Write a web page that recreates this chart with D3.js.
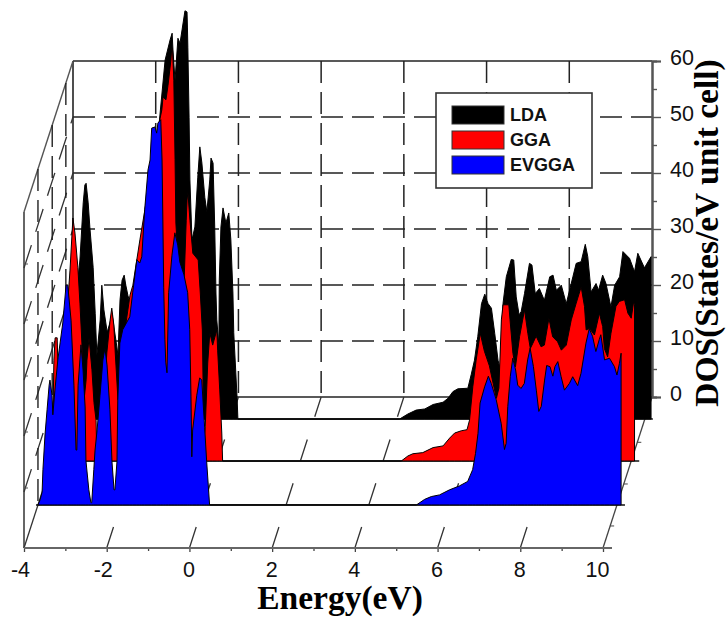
<!DOCTYPE html>
<html>
<head>
<meta charset="utf-8">
<script src="https://cdn.jsdelivr.net/npm/d3@7/dist/d3.min.js"></script>
<style>
  html, body { margin: 0; padding: 0; background: #fff; }
  svg { display: block; }
  .tickText { font-family: "Liberation Sans", Arial, sans-serif; font-size: 21.5px; fill: #111; }
  .title { font-family: "Liberation Serif", "Times New Roman", serif; font-weight: bold; font-size: 33.5px; fill: #000; }
</style>
</head>
<body>
<div id="chart"></div>
<script>
// energy (eV), DOS
const ldaPoints = [[-4,0],[-3.97,4.3],[-3.9,8.8],[-3.8,17.7],[-3.71,24.8],[-3.66,28.4],[-3.58,38.6],[-3.54,41.8],[-3.51,42.1],[-3.46,38.6],[-3.42,34.3],[-3.34,27.1],[-3.29,18.9],[-3.25,11.4],[-3.17,17.7],[-3.13,23.9],[-3.08,19.5],[-3,15.5],[-2.88,18.6],[-2.79,14.1],[-2.74,11.4],[-2.69,21.3],[-2.64,24.8],[-2.59,25.7],[-2.55,23.9],[-2.5,22.1],[-2.45,20.7],[-2.38,15.9],[-2.26,21.3],[-2.09,30.2],[-1.85,44.5],[-1.6,64.1],[-1.48,67.7],[-1.43,68.9],[-1.41,65.9],[-1.36,60.5],[-1.29,68],[-1.24,67.1],[-1.19,69.5],[-1.12,72.9],[-1.07,72.7],[-1.06,70],[-1.05,66.4],[-1.02,53.9],[-1,42.7],[-0.95,32],[-0.88,34.3],[-0.81,43.2],[-0.76,48.6],[-0.71,45.7],[-0.69,43.9],[-0.64,39.6],[-0.59,37],[-0.52,42.7],[-0.49,46.6],[-0.44,45.7],[-0.43,42.7],[-0.4,34.3],[-0.37,22.5],[-0.35,17.7],[-0.3,13.2],[-0.29,24.8],[-0.25,34.3],[-0.2,37.7],[-0.13,35],[-0.06,36.8],[-0.01,32],[0.04,22.5],[0.06,15.4],[0.14,3.9],[0.16,0],
  [4.07,0],[4.27,0.9],[4.47,1.6],[4.68,1.8],[4.88,2.6],[5.12,3],[5.24,3.7],[5.36,4.9],[5.48,5.4],[5.72,5.5],[5.8,7.9],[5.88,10.5],[5.96,14.7],[6.05,20.6],[6.13,22.3],[6.21,20.6],[6.29,19.8],[6.37,15.3],[6.45,10.5],[6.5,9],[6.57,20.6],[6.65,25.4],[6.77,28.5],[6.83,28.4],[6.89,21.8],[6.96,18.6],[7.01,19.2],[7.09,22.4],[7.21,27.8],[7.27,27.5],[7.35,22.4],[7.45,23.3],[7.57,21.2],[7.7,25.4],[7.78,25.7],[7.86,23],[7.98,23.9],[8.1,20.6],[8.26,25.4],[8.34,27.8],[8.46,28.1],[8.56,31.2],[8.62,29],[8.7,22.7],[8.82,24.2],[8.88,23],[8.98,25.7],[9.06,24.2],[9.18,20],[9.27,23.9],[9.39,25.4],[9.47,29.9],[9.63,28.7],[9.75,26.3],[9.83,29.6],[9.99,27],[10.15,29],[10.15,0]];

const ggaPoints = [[-4,0],[-3.98,8.6],[-3.96,18],[-3.93,22],[-3.88,22],[-3.86,16.3],[-3.81,10.9],[-3.76,12.7],[-3.67,23.4],[-3.57,34.1],[-3.5,43.4],[-3.45,40.7],[-3.38,34.6],[-3.33,28.2],[-3.28,20.7],[-3.23,10.9],[-3.18,14.5],[-3.16,18],[-3.11,22],[-3.04,16.3],[-2.99,10.4],[-2.94,7.3],[-2.92,0],[-2.85,1.1],[-2.75,10.9],[-2.68,19.3],[-2.6,25.2],[-2.56,27.3],[-2.51,24.3],[-2.48,19.8],[-2.41,10.9],[-2.31,14.5],[-2.24,23.4],[-2.12,29.6],[-2.05,31.4],[-1.88,39.5],[-1.64,50.2],[-1.45,59.1],[-1.35,62.7],[-1.32,65],[-1.25,64.5],[-1.2,67.1],[-1.13,71.6],[-1.11,73.8],[-1.09,73.4],[-1.06,68],[-1.03,53.8],[-1.01,42.5],[-0.96,35.9],[-0.89,30.5],[-0.81,32.3],[-0.76,43],[-0.74,46.6],[-0.72,48],[-0.67,43],[-0.6,37.1],[-0.47,35.9],[-0.42,30],[-0.37,23.4],[-0.35,12.7],[-0.33,3.8],[-0.3,6.1],[-0.24,17.5],[-0.19,22.9],[-0.12,20.7],[-0.02,23.4],[0,19.8],[0.05,12.7],[0.1,5],[0.12,0],
  [4.44,0],[4.6,0.9],[4.72,1.3],[4.96,1.5],[5.21,2.4],[5.45,2.7],[5.61,4.1],[5.73,5],[5.89,5.4],[6.03,5.6],[6.09,7.3],[6.17,13.3],[6.25,18],[6.35,22.8],[6.45,19.6],[6.57,17],[6.66,13.9],[6.74,11.2],[6.8,13],[6.86,25.2],[6.9,27.9],[7.04,27.9],[7.07,25.2],[7.14,19.2],[7.2,16.8],[7.3,22.2],[7.42,27],[7.5,22.8],[7.56,20.1],[7.62,21],[7.7,22.3],[7.82,20.4],[7.9,20.7],[8.01,25.5],[8.1,22.2],[8.22,21.3],[8.31,19.8],[8.43,20.7],[8.55,25.2],[8.67,28.2],[8.79,31.1],[8.87,27.6],[8.91,23.4],[8.99,23.7],[9.11,22.5],[9.23,26.4],[9.31,24],[9.35,20.1],[9.43,18.6],[9.51,22.8],[9.63,27.6],[9.71,28.5],[9.84,28.8],[9.92,26.4],[10,25.5],[10.06,28.5],[10.08,28],[10.08,0]];

const evggaPoints = [[-4,0],[-3.95,0.9],[-3.9,2.3],[-3.88,6.3],[-3.83,12.5],[-3.78,17],[-3.73,21.4],[-3.71,22.3],[-3.66,19.6],[-3.64,16.1],[-3.59,20.5],[-3.52,25.9],[-3.4,32.5],[-3.32,39.3],[-3.28,39.3],[-3.2,33],[-3.13,21.4],[-3.08,9.8],[-3.06,9.8],[-3.03,21.4],[-2.96,28.6],[-2.91,24.1],[-2.86,17.5],[-2.84,7.9],[-2.77,2.7],[-2.72,0.4],[-2.7,0.4],[-2.65,6.3],[-2.62,9.8],[-2.57,13.4],[-2.5,19.6],[-2.43,25.9],[-2.38,28],[-2.33,25],[-2.26,17],[-2.21,7.7],[-2.16,2.7],[-2.14,2.7],[-2.09,7.7],[-2.07,18.8],[-2.02,28.9],[-1.95,31.3],[-1.78,33.6],[-1.71,37.9],[-1.61,43.8],[-1.54,43.2],[-1.49,44.3],[-1.42,52.7],[-1.34,59.8],[-1.29,61.6],[-1.25,67.3],[-1.17,67.5],[-1.13,66.4],[-1.1,68.2],[-1.03,68.8],[-1,61.6],[-0.98,50.9],[-0.96,38.9],[-0.93,29.5],[-0.91,25.5],[-0.88,23.6],[-0.84,37.9],[-0.76,44.6],[-0.69,48.6],[-0.62,46.4],[-0.57,43.4],[-0.47,41.1],[-0.38,37.9],[-0.33,31.3],[-0.3,19.3],[-0.28,8.6],[-0.26,13.4],[-0.16,19.6],[-0.09,22.7],[-0.04,22.3],[0.03,13.9],[0.08,7.7],[0.15,0],
  [5.15,0],[5.35,1],[5.51,1.5],[5.71,1.8],[5.95,2.7],[6.19,3.4],[6.39,4.2],[6.51,6.3],[6.58,9.2],[6.64,12.8],[6.69,18.2],[6.8,21.1],[6.89,23],[6.96,21.7],[7.08,18.8],[7.2,14.6],[7.28,9.9],[7.32,11],[7.36,17.6],[7.42,22.9],[7.48,26.2],[7.55,24.1],[7.6,21.4],[7.68,20.8],[7.76,21.7],[7.84,25.9],[7.9,28],[7.98,24.7],[8.05,20.5],[8.11,16.7],[8.17,17.6],[8.25,22.3],[8.3,24.9],[8.38,24.7],[8.45,23],[8.5,24.7],[8.57,25.6],[8.65,22.9],[8.73,20.5],[8.85,21.7],[8.93,22.9],[9.05,21.3],[9.13,23.5],[9.25,28.9],[9.33,31.5],[9.41,30.1],[9.49,27.4],[9.57,29.5],[9.61,30.4],[9.7,25.9],[9.82,26.2],[9.94,24.7],[10,23.2],[10.06,25.3],[10.1,27.1],[10.1,0]];

const seriesNames = ["LDA", "GGA", "EVGGA"];
const seriesColors = ["#000000", "#ff0000", "#0000ff"];
const xTicks = [-4, -2, 0, 2, 4, 6, 8, 10];
const xMinorTicks = [-3, -1, 1, 3, 5, 7, 9];
const yTicks = [0, 10, 20, 30, 40, 50, 60];
const yMinorTicks = [5, 15, 25, 35, 45, 55];

var svgwidth = 727, svgheight = 618;

// front plane scales, depth pushes things back along the slanted floor
var x = d3.scaleLinear().domain([-4, 10]).range([24, 603]);
var y = d3.scaleLinear().domain([0, 60]).range([548, 212]);
var depthX = d3.scaleLinear().domain([0, 1]).range([0, 49]);
var depthY = d3.scaleLinear().domain([0, 1]).range([0, -151]);

var seriesDepth = [0.854, 0.576, 0.285];
var seriesData = [ldaPoints, ggaPoints, evggaPoints];

function px(e, z) { return x(e) + depthX(z); }
function py(v, z) { return y(v) + depthY(z); }

var svg = d3.select("#chart").append("svg")
    .attr("width", svgwidth)
    .attr("height", svgheight);

function seg(x1, y1, x2, y2, color, w, dash) {
    return svg.append("line")
        .attr("x1", x1).attr("y1", y1).attr("x2", x2).attr("y2", y2)
        .attr("stroke", color).attr("stroke-width", w)
        .attr("stroke-dasharray", dash || null);
}

var gridDash = "22,9";

// back wall grid
yTicks.slice(1, -1).forEach(function(v) {
    seg(px(-4, 1), py(v, 1), px(10, 1), py(v, 1), "#222", 1.5, gridDash);
});
xTicks.slice(1, -1).forEach(function(e) {
    seg(px(e, 1), py(60, 1), px(e, 1), py(0, 1), "#222", 1.5, gridDash);
});
seg(px(-4, 1), py(60, 1), px(10, 1), py(60, 1), "#222", 1.6);
seg(px(-4, 1), py(0, 1), px(10, 1), py(0, 1), "#222", 1.6);
seg(px(-4, 1), py(60, 1), px(-4, 1), py(0, 1), "#222", 1.6);

// left wall
seg(px(-4, 0), py(60, 0), px(-4, 1), py(60, 1), "#555", 1.4);
seg(px(-4, 0), py(60, 0), px(-4, 0), py(0, 0), "#666", 2);
yTicks.slice(1, -1).forEach(function(v) {
    seg(px(-4, 0), py(v, 0), px(-4, 1), py(v, 1), "#333", 1.3, "24,14");
    seg(px(-4, 0), py(v, 0) - 4, px(-4, 0) + 4, py(v, 0) - 4, "#555", 1);
});
seriesDepth.forEach(function(z) {
    seg(px(-4, z), py(60, z), px(-4, z), py(0, z), "#222", 1.4, gridDash);
});

// floor
seg(px(-4, 0), py(0, 0), px(-4, 1), py(0, 1), "#333", 1.3);
xTicks.slice(1, -1).forEach(function(e) {
    seg(px(e, 0), py(0, 0), px(e, 1), py(0, 1), "#333", 1.3, "22,24");
});

// right slanted edge
seg(px(10, 0), py(0, 0), px(10, 1), py(0, 1), "#444", 1.3);
[0.146, 0.424, 0.70].forEach(function(z) {
    seg(px(10, z), py(0, z), px(10, z) + 4, py(0, z), "#444", 1);
});

// right axis on the back wall
var yBack = d3.scaleLinear().domain([0, 60]).range([py(0, 1), py(60, 1)]);
var rightAxis = svg.append("g")
    .attr("transform", "translate(" + px(10, 1) + ",0)")
    .call(d3.axisRight(yBack).tickValues(yTicks).tickSize(9).tickPadding(9).tickFormat(String));
rightAxis.selectAll("text").attr("class", "tickText").attr("y", -3);
var rightMinor = svg.append("g")
    .attr("transform", "translate(" + px(10, 1) + ",0)")
    .call(d3.axisRight(yBack).tickValues(yMinorTicks).tickSize(5).tickFormat(""));
[rightAxis, rightMinor].forEach(function(g) {
    g.select(".domain").attr("stroke", "#555").attr("stroke-width", 2);
    g.selectAll(".tick line").attr("stroke", "#555").attr("stroke-width", 1.4);
});

// the three DOS curves, back to front
seriesData.forEach(function(points, i) {
    var z = seriesDepth[i];
    var area = d3.area()
        .x(function(d) { return px(d[0], z); })
        .y0(py(0, z))
        .y1(function(d) { return py(d[1], z); });
    // baseline runs past the end of the fill
    seg(px(-4, z) - 2, py(0, z), px(10, z) + 8, py(0, z), "#111", 1.6);
    svg.append("path")
        .datum(points)
        .attr("d", area)
        .attr("fill", seriesColors[i])
        .attr("stroke", "#000")
        .attr("stroke-width", 1)
        .attr("stroke-linejoin", "miter");
});

// front axis
var bottomAxis = svg.append("g")
    .attr("transform", "translate(0," + y(0) + ")")
    .call(d3.axisBottom(x).tickValues(xTicks).tickSize(4).tickPadding(10).tickSizeOuter(0).tickFormat(String));
bottomAxis.selectAll("text")
    .attr("class", "tickText")
    .attr("dx", function(d) { return d < 0 ? -4 : (d === 10 ? -6 : -1); });
var bottomMinor = svg.append("g")
    .attr("transform", "translate(0," + y(0) + ")")
    .call(d3.axisBottom(x).tickValues(xMinorTicks).tickSize(3).tickFormat(""));
bottomAxis.select(".domain").remove();
bottomMinor.select(".domain").remove();
[bottomAxis, bottomMinor].forEach(function(g) {
    g.selectAll(".tick line").attr("stroke", "#444").attr("stroke-width", 1.3);
});
seg(px(-4, 0), y(0), px(10, 0) + 9, y(0), "#666", 2);

// legend
var legend = svg.append("g").attr("transform", "translate(436,93)");
legend.append("rect")
    .attr("width", 156).attr("height", 95)
    .attr("fill", "#fff").attr("stroke", "#333").attr("stroke-width", 1.6);
seriesNames.forEach(function(name, i) {
    var row = 13 + i * 25;
    legend.append("rect")
        .attr("x", 16).attr("y", row)
        .attr("width", 52).attr("height", 18)
        .attr("fill", seriesColors[i]).attr("stroke", "#333").attr("stroke-width", 1);
    legend.append("text")
        .attr("x", 74).attr("y", row + 15)
        .attr("font-family", "'Liberation Sans', Arial, sans-serif")
        .attr("font-weight", "bold")
        .attr("font-size", "18px")
        .attr("fill", "#111")
        .text(name);
});

// axis titles
svg.append("text")
    .attr("class", "title")
    .attr("text-anchor", "middle")
    .attr("x", 340).attr("y", 609)
    .text("Energy(eV)");
svg.append("text")
    .attr("class", "title")
    .attr("text-anchor", "middle")
    .attr("transform", "translate(718,233) rotate(-90)")
    .text("DOS(States/eV unit cell)");
</script>
</body>
</html>
